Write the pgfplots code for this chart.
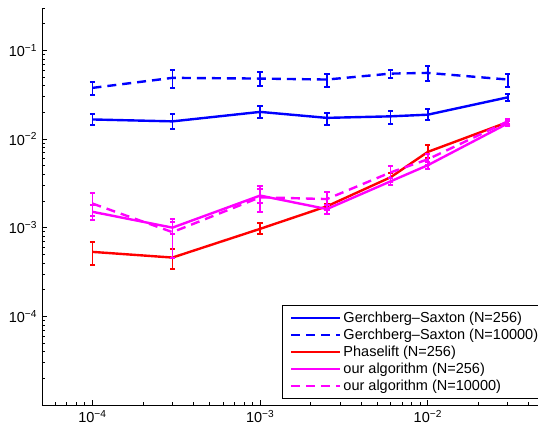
\documentclass[border=0pt]{standalone}
\usepackage{fontspec}
\setmainfont{Liberation Sans}
\usepackage{pgfplots}
\usepackage{pgfplotstable}
\pgfplotsset{compat=1.18}
\definecolor{mblue}{rgb}{0,0,1}
\definecolor{mred}{rgb}{1,0,0}
\definecolor{mmag}{rgb}{1,0,1}

\pgfplotstableread{
x y ep em
1e-4 0.0166 0.0027 0.0024
3e-4 0.0158 0.0035 0.0028
1e-3 0.0202 0.0032 0.0029
2.5e-3 0.0173 0.0024 0.0028
6e-3 0.0180 0.0029 0.0032
1e-2 0.0188 0.0030 0.0026
3e-2 0.0295 0.0030 0.0029
}\gsA
\pgfplotstableread{
x y ep em
1e-4 0.0377 0.0058 0.0066
3e-4 0.0489 0.0116 0.0112
1e-3 0.0480 0.0090 0.0087
2.5e-3 0.0468 0.0078 0.0082
6e-3 0.0546 0.0059 0.0057
1e-2 0.0556 0.0104 0.0109
3e-2 0.0468 0.0078 0.0082
}\gsB
\pgfplotstableread{
x y ep em
1e-4 0.000533 0.00016 0.00015
3e-4 0.00046 0.00012 0.00012
1e-3 0.00097 0.00016 0.00012
2.5e-3 0.00174 0.0001 0.0001
6e-3 0.0037 0.0004 0.0004
1e-2 0.00715 0.0015 0.0010
3e-2 0.0155 0.001 0.001
}\pl
\pgfplotstableread{
x y ep em
1e-4 0.00151 0.0003 0.0003
3e-4 0.00100 0.00015 0.00015
1e-3 0.0023 0.0004 0.0004
2.5e-3 0.00162 0.0002 0.0002
6e-3 0.00333 0.0003 0.0003
1e-2 0.00506 0.0005 0.0005
3e-2 0.0150 0.001 0.001
}\oursA
\pgfplotstableread{
x y ep em
1e-4 0.00187 0.0006 0.0005
3e-4 0.00089 0.00036 0.00043
1e-3 0.0022 0.00075 0.0007
2.5e-3 0.0021 0.00045 0.0005
6e-3 0.0042 0.0007 0.0009
1e-2 0.0059 0.0008 0.0008
3e-2 0.0158 0.001 0.001
}\oursB

\begin{document}
\fontsize{14.5pt}{17pt}\selectfont
\begin{tikzpicture}
\useasboundingbox (-42pt,-30pt) rectangle (496pt,405pt);
\begin{axis}[
  at={(0,0)}, anchor=south west,
  scale only axis, width=503pt, height=397pt,
  xmode=log, ymode=log,
  xmin=5e-5, xmax=5e-2, ymin=1e-5, ymax=0.3,
  axis lines*=left,
  axis line style={line width=0.8pt, black},
  tick style={line width=0.6pt, black},
  tick align=inside,
  major tick length=5pt, minor tick length=3pt,
  xtick={1e-4,1e-3,1e-2},
  xticklabels={10\textsuperscript{−4},10\textsuperscript{−3},10\textsuperscript{−2}},
  ytick={1e-4,1e-3,1e-2,1e-1},
  yticklabels={10\textsuperscript{−4},10\textsuperscript{−3},10\textsuperscript{−2},10\textsuperscript{−1}},
  minor xtick={5e-5,6e-5,7e-5,8e-5,9e-5,2e-4,3e-4,4e-4,5e-4,6e-4,7e-4,8e-4,9e-4,2e-3,3e-3,4e-3,5e-3,6e-3,7e-3,8e-3,9e-3,2e-2,3e-2,4e-2,5e-2},
  minor ytick={2e-5,3e-5,4e-5,5e-5,6e-5,7e-5,8e-5,9e-5,2e-4,3e-4,4e-4,5e-4,6e-4,7e-4,8e-4,9e-4,2e-3,3e-3,4e-3,5e-3,6e-3,7e-3,8e-3,9e-3,2e-2,3e-2,4e-2,5e-2,6e-2,7e-2,8e-2,9e-2,2e-1,3e-1},
  ticklabel style={font=\fontsize{14.5pt}{17pt}\selectfont},
  legend cell align=left,
  legend image code/.code={\draw[#1,line width=2.4pt] (0pt,0pt) -- (49pt,0pt);},
  legend style={at={(0.4765,0.0151)}, anchor=south west, draw=black, line width=0.8pt,
    fill=white, inner xsep=8pt, inner ysep=4pt,
    nodes={inner sep=2pt, anchor=west, text height=10.5pt, text depth=2.5pt},
    font=\fontsize{14.5pt}{17pt}\selectfont},
  error bars/y dir=both, error bars/y explicit,
  error bars/error mark=|,
  error bars/error bar style={line width=1.8pt, solid},
  error bars/error mark options={line width=2pt, mark size=2.7pt, solid},
]
\addplot[mblue, solid, line width=2.4pt] table[x=x,y=y,y error plus=ep,y error minus=em]{\gsA};
\addlegendentry{Gerchberg–Saxton (N=256)}
\addplot[mblue, line width=2.4pt, dash pattern=on 9pt off 6pt] table[x=x,y=y,y error plus=ep,y error minus=em]{\gsB};
\addlegendentry{Gerchberg–Saxton (N=10000)}
\addplot[mred, solid, line width=2.4pt] table[x=x,y=y,y error plus=ep,y error minus=em]{\pl};
\addlegendentry{Phaselift (N=256)}
\addplot[mmag, solid, line width=2.4pt] table[x=x,y=y,y error plus=ep,y error minus=em]{\oursA};
\addlegendentry{our algorithm (N=256)}
\addplot[mmag, line width=2.4pt, dash pattern=on 9pt off 6pt] table[x=x,y=y,y error plus=ep,y error minus=em]{\oursB};
\addlegendentry{our algorithm (N=10000)}
\end{axis}
\end{tikzpicture}
\end{document}
